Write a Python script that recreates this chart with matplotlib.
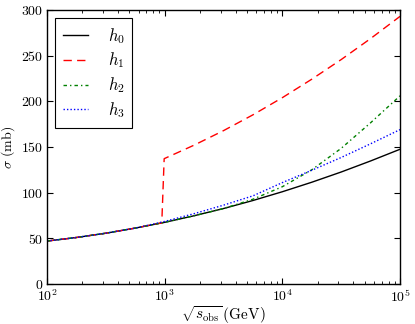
import matplotlib
matplotlib.use("Agg")
import matplotlib.pyplot as plt
import numpy as np

plt.rcParams['font.family'] = 'serif'
plt.rcParams['font.serif'] = ['cmr10', 'DejaVu Serif']
plt.rcParams['mathtext.fontset'] = 'cm'
plt.rcParams['axes.formatter.use_mathtext'] = True
plt.rcParams['axes.unicode_minus'] = False

# sqrt(s) in GeV
x_common = [1e2, 1.778e2, 3.162e2, 5.623e2, 1e3, 1.778e3, 3.162e3, 5.623e3,
            1e4, 1.778e4, 3.162e4, 5.623e4, 1e5]
h0 = [47.0, 50.9, 55.6, 61.2, 67.5, 74.7, 82.6, 91.4, 101.0, 111.4, 122.6, 134.7, 147.5]
h2 = [47.0, 50.9, 55.6, 61.2, 67.5, 74.7, 82.6, 92.8, 106.5, 125.0, 148.5, 176.5, 206.0]
h3 = [47.0, 50.9, 55.6, 61.2, 68.5, 77.0, 86.3, 96.5, 111.0, 124.5, 138.5, 153.5, 169.0]

x_h1 = [1e2, 1.778e2, 3.162e2, 5.623e2, 9.45e2, 9.9e2, 1.778e3, 3.162e3, 5.623e3,
        1e4, 1.778e4, 3.162e4, 5.623e4, 1e5]
h1 = [47.0, 50.9, 55.6, 61.2, 67.0, 137.2, 152.0, 167.9, 185.2, 204.0, 224.2,
      245.7, 268.7, 293.0]

labels = ['$h_0$', '$h_1$', '$h_2$', '$h_3$']

fig = plt.figure(figsize=(4.15, 3.24), dpi=100)
ax = fig.add_axes([0.1133, 0.1235, 0.8506, 0.8457])

ax.plot(x_common, h0, color='k', ls='-', lw=1.0, label=labels[0])
ax.plot(x_h1, h1, color='r', ls=(0, (6, 3.8)), lw=1.0, label=labels[1])
ax.plot(x_common, h2, color='g', ls=(0, (2.5, 2.2, 1, 2.2)), lw=1.0, label=labels[2])
ax.plot(x_common, h3, color='b', ls=(0, (1, 1.5)), lw=1.0, label=labels[3])

ax.set_xscale('log')
ax.set_xlim(1e2, 1e5)
ax.set_ylim(0, 300)
ax.set_yticks([0, 50, 100, 150, 200, 250, 300])

ax.tick_params(direction='in', top=True, right=True, which='both', labelsize=10)
ax.tick_params(axis='y', pad=2.5)
ax.tick_params(axis='x', pad=3)
ax.tick_params(which='major', length=4)
ax.tick_params(which='minor', length=2)

ax.set_xlabel(r'$\sqrt{s_{\rm obs}}\,$(GeV)', fontsize=11, labelpad=0)
ax.set_ylabel(r'$\sigma$ (mb)', fontsize=10, labelpad=3)

leg = ax.legend(loc='upper left', fontsize=12, fancybox=False, edgecolor='k',
                framealpha=1, handlelength=1.5, handletextpad=1.2,
                labelspacing=0.3, borderpad=0.45)
leg.get_frame().set_linewidth(0.8)

for sp in ax.spines.values():
    sp.set_linewidth(1.0)

fig.savefig('out.png', dpi=100)
